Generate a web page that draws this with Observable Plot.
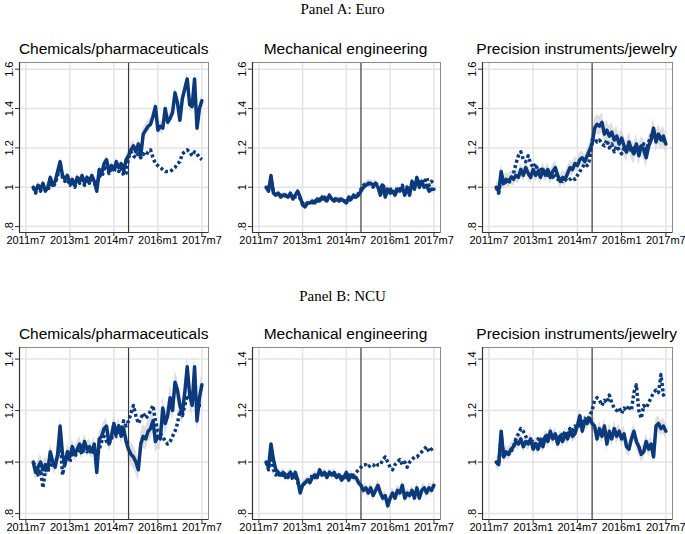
<!DOCTYPE html>
<html><head><meta charset="utf-8">
<script src="https://cdn.jsdelivr.net/npm/d3@7"></script>
<script src="https://cdn.jsdelivr.net/npm/@observablehq/plot@0.6"></script>
<style>
body{margin:0;background:#fff;}
#root{position:relative;width:685px;height:534px;overflow:hidden;background:#fff;font-family:"Liberation Sans",Arial,sans-serif;}
.ptitle{position:absolute;left:0;width:685px;text-align:center;font-family:"Liberation Serif","Times New Roman",serif;font-size:15px;line-height:18px;color:#000;}
.stitle{position:absolute;text-align:center;font-size:15.5px;line-height:18px;white-space:nowrap;color:#000;}
.cell{position:absolute;}
</style></head>
<body><div id="root"></div>
<script>
// ---- data ----
const firstMonth = "2011m10";          // first observation (months counted from 2011m7 = 0)
const firstMonthIndex = 3;
const breakMonthLabel = "2015m1";
const breakMonthIndex = 42;
const xTickValues = [0, 18, 36, 54, 72];
const xTickLabels = ["2011m7", "2013m1", "2014m7", "2016m1", "2017m7"];
const yTicksA = [0.8, 1, 1.2, 1.4, 1.6];
const yTickLabelsA = [".8", "1", "1.2", "1.4", "1.6"];
const yTicksB = [0.8, 1, 1.2, 1.4];
const yTickLabelsB = [".8", "1", "1.2", "1.4"];
const panelHeadings = ["Panel A: Euro", "Panel B: NCU"];
const sectors = ["Chemicals/pharmaceuticals", "Mechanical engineering", "Precision instruments/jewelry"];

const chemEuroSolid = [
 1.00,0.98,1.01,0.99,1.02,0.98,1.00,1.05,1.01,1.03,
 1.08,1.13,1.06,1.04,1.06,1.02,1.04,1.01,1.05,1.03,
 1.06,1.02,1.05,1.03,1.06,1.03,0.98,1.09,1.07,1.12,
 1.14,1.08,1.11,1.09,1.13,1.10,1.12,1.08,1.14,1.16,
 1.19,1.21,1.18,1.22,1.16,1.27,1.29,1.31,1.32,1.36,
 1.41,1.29,1.31,1.30,1.40,1.33,1.35,1.38,1.48,1.43,
 1.34,1.45,1.50,1.55,1.42,1.41,1.55,1.30,1.40,1.44];
const chemEuroDashed = [
 1.00,0.97,1.00,0.98,1.01,0.99,0.98,1.03,1.00,1.02,
 1.06,1.10,1.05,1.03,1.04,1.01,1.03,1.00,1.04,1.02,
 1.04,1.01,1.04,1.02,1.04,1.02,1.00,1.06,1.05,1.09,
 1.11,1.07,1.09,1.08,1.11,1.08,1.10,1.06,1.07,1.15,
 1.18,1.16,1.15,1.17,1.15,1.17,1.16,1.18,1.19,1.15,
 1.12,1.11,1.10,1.09,1.08,1.08,1.08,1.09,1.10,1.12,
 1.13,1.17,1.18,1.19,1.18,1.16,1.18,1.17,1.15,1.14];
const mechEuroSolid = [
 1.00,0.98,1.06,0.97,0.96,0.97,0.95,0.96,0.96,0.95,
 0.97,0.94,0.96,0.98,0.95,0.91,0.90,0.92,0.92,0.93,
 0.92,0.94,0.93,0.95,0.94,0.93,0.96,0.94,0.93,0.94,
 0.93,0.94,0.93,0.92,0.95,0.94,0.96,0.95,0.96,0.98,
 1.00,1.01,1.02,1.02,1.01,1.02,1.00,0.96,1.01,0.95,
 0.99,0.97,0.98,0.96,0.99,0.98,1.00,0.96,1.00,0.96,
 1.03,0.99,1.05,1.00,1.03,1.00,1.01,0.98,0.99,0.99];
const mechEuroDashed = [
 1.00,0.99,1.04,0.98,0.96,0.96,0.96,0.95,0.96,0.96,
 0.96,0.95,0.95,0.97,0.94,0.92,0.91,0.92,0.93,0.92,
 0.93,0.93,0.94,0.94,0.95,0.94,0.95,0.95,0.94,0.94,
 0.94,0.93,0.93,0.93,0.93,0.94,0.95,0.95,0.97,0.99,
 1.01,1.02,1.02,1.01,1.00,1.02,1.01,0.99,1.02,0.97,
 1.00,0.99,0.99,0.97,1.00,0.99,1.01,0.98,1.00,0.98,
 1.02,1.00,1.03,1.02,1.04,1.02,1.05,1.01,1.03,1.02];
const precEuroSolid = [
 1.00,0.98,1.08,1.02,1.04,1.03,1.05,1.04,1.06,1.05,
 1.09,1.06,1.10,1.07,1.05,1.09,1.06,1.08,1.05,1.09,
 1.06,1.09,1.05,1.08,1.10,1.06,1.03,1.05,1.04,1.07,
 1.10,1.09,1.12,1.11,1.14,1.15,1.13,1.16,1.19,1.22,
 1.30,1.32,1.31,1.33,1.27,1.29,1.26,1.28,1.24,1.26,
 1.22,1.25,1.21,1.18,1.23,1.19,1.17,1.22,1.16,1.21,
 1.19,1.15,1.21,1.24,1.30,1.23,1.27,1.24,1.26,1.22];
const precEuroDashed = [
 1.00,0.97,1.05,1.01,1.03,1.02,1.04,1.07,1.12,1.16,
 1.18,1.14,1.13,1.16,1.12,1.10,1.12,1.08,1.10,1.07,
 1.09,1.06,1.08,1.05,1.07,1.04,1.05,1.03,1.04,1.03,
 1.04,1.05,1.04,1.06,1.08,1.10,1.12,1.11,1.14,1.24,
 1.25,1.23,1.24,1.22,1.21,1.24,1.20,1.22,1.18,1.21,
 1.19,1.17,1.20,1.18,1.21,1.18,1.20,1.19,1.21,1.20,
 1.22,1.19,1.23,1.26,1.28,1.24,1.27,1.25,1.24,1.22];
const chemNcuSolid = [
 1.00,0.96,0.98,1.00,0.97,0.99,0.97,1.04,1.00,0.98,
 1.03,1.14,1.03,0.99,1.04,1.02,1.06,1.03,1.05,1.07,
 1.04,1.08,1.05,1.06,1.04,1.07,0.96,1.09,1.10,1.13,
 1.14,1.07,1.10,1.15,1.11,1.14,1.10,1.13,1.08,1.05,
 1.03,1.02,1.00,0.97,1.07,1.10,1.09,1.12,1.13,1.16,
 1.08,1.10,1.09,1.21,1.15,1.18,1.25,1.20,1.31,1.28,
 1.22,1.19,1.27,1.37,1.26,1.22,1.37,1.16,1.25,1.30];
const chemNcuDashed = [
 1.00,0.98,0.95,0.97,0.90,0.97,0.96,1.01,0.98,1.00,
 1.02,1.09,0.95,1.00,1.03,1.00,1.04,1.02,1.04,1.05,
 1.03,1.06,1.04,1.05,1.03,1.05,1.02,1.05,1.08,1.10,
 1.08,1.07,1.09,1.12,1.10,1.14,1.12,1.16,1.14,1.16,
 1.19,1.22,1.18,1.15,1.17,1.19,1.17,1.18,1.20,1.22,
 1.16,1.12,1.11,1.10,1.08,1.07,1.08,1.10,1.12,1.15,
 1.20,1.18,1.22,1.26,1.24,1.25,1.26,1.24,1.22,1.22];
const mechNcuSolid = [
 1.00,0.98,1.07,1.01,0.97,0.96,0.95,0.96,0.94,0.95,
 0.96,0.94,0.96,0.93,0.88,0.91,0.92,0.93,0.92,0.94,
 0.95,0.94,0.97,0.95,0.96,0.94,0.96,0.95,0.96,0.94,
 0.95,0.93,0.94,0.96,0.93,0.95,0.94,0.94,0.92,0.91,
 0.89,0.90,0.88,0.90,0.87,0.89,0.91,0.88,0.86,0.87,
 0.83,0.86,0.88,0.86,0.89,0.88,0.91,0.86,0.88,0.87,
 0.89,0.86,0.90,0.86,0.89,0.90,0.88,0.90,0.89,0.91];
const mechNcuDashed = [
 1.00,0.97,1.04,0.97,0.95,0.96,0.94,0.96,0.95,0.94,
 0.96,0.93,0.95,0.92,0.90,0.91,0.92,0.93,0.93,0.95,
 0.94,0.95,0.96,0.95,0.96,0.95,0.96,0.95,0.95,0.94,
 0.95,0.94,0.95,0.94,0.95,0.94,0.95,0.96,0.97,0.98,
 0.99,0.99,0.98,0.99,0.99,0.98,0.99,0.99,1.01,1.02,
 1.00,0.98,0.97,0.99,1.00,1.01,0.99,1.00,0.98,1.00,
 1.01,1.02,1.02,1.03,1.04,1.05,1.06,1.04,1.05,1.06];
const precNcuSolid = [
 1.00,0.99,1.12,1.02,1.04,1.03,1.05,1.06,1.08,1.07,
 1.09,1.06,1.08,1.07,1.09,1.05,1.07,1.05,1.08,1.06,
 1.10,1.08,1.12,1.09,1.11,1.07,1.10,1.08,1.11,1.09,
 1.12,1.10,1.11,1.14,1.18,1.12,1.16,1.15,1.17,1.15,
 1.14,1.09,1.13,1.10,1.14,1.07,1.12,1.09,1.13,1.10,
 1.12,1.09,1.11,1.06,1.05,1.09,1.12,1.08,1.06,1.03,
 1.04,1.08,1.05,1.07,1.02,1.14,1.15,1.13,1.14,1.12];
const precNcuDashed = [
 1.00,0.99,1.10,1.02,1.04,1.03,1.04,1.06,1.09,1.11,
 1.13,1.12,1.10,1.08,1.07,1.08,1.07,1.09,1.08,1.10,
 1.09,1.11,1.09,1.11,1.10,1.09,1.11,1.10,1.12,1.11,
 1.13,1.12,1.14,1.13,1.15,1.16,1.17,1.16,1.18,1.20,
 1.24,1.25,1.24,1.22,1.24,1.23,1.26,1.23,1.21,1.20,
 1.21,1.19,1.21,1.20,1.22,1.20,1.27,1.30,1.20,1.17,
 1.22,1.21,1.23,1.25,1.27,1.28,1.27,1.34,1.26,1.27];
// confidence half-widths (before / after the break)
const bandA = [[0.02, 0.03], [0.015, 0.02], [0.035, 0.05]];
const bandB = [[0.03, 0.045], [0.015, 0.02], [0.025, 0.03]];

// ---- layout ----
const navy = "#0b3a7c";
const colFrames = [[19.3, 208], [251.7, 439.3], [481.7, 671.7]];
const rowFrames = [[61.7, 231.7], [346.7, 518.3]];
const xDomain = [-2.6, 74.7];
const yDomainA = [0.77, 1.634];
const yDomainB = [0.777, 1.445];

const root = document.getElementById("root");
const series = [
  [[chemEuroSolid, chemEuroDashed], [mechEuroSolid, mechEuroDashed], [precEuroSolid, precEuroDashed]],
  [[chemNcuSolid, chemNcuDashed], [mechNcuSolid, mechNcuDashed], [precNcuSolid, precNcuDashed]]
];
const headingTops = [0, 287];
panelHeadings.forEach((h, r) => {
  const d = document.createElement("div");
  d.className = "ptitle"; d.style.top = headingTops[r] + "px"; d.textContent = h;
  root.appendChild(d);
});

const mL = 20, mR = 6, mT = 2, mB = 22;
for (let r = 0; r < 2; r++) {
  const yTicks = r === 0 ? yTicksA : yTicksB;
  const yLabels = r === 0 ? yTickLabelsA : yTickLabelsB;
  const yDomain = r === 0 ? yDomainA : yDomainB;
  const bands = r === 0 ? bandA : bandB;
  for (let c = 0; c < 3; c++) {
    const [fl, fr] = colFrames[c];
    const [ft, fb] = rowFrames[r];
    const [solid, dashed] = series[r][c];
    const rows = solid.map((v, i) => {
      const m = firstMonthIndex + i;
      const hw = m >= breakMonthIndex ? bands[c][1] : bands[c][0];
      return {m, solid: v, dashed: dashed[i], lo: v - hw, hi: v + hw};
    });
    const t = document.createElement("div");
    t.className = "stitle";
    t.style.left = (fl - 20) + "px"; t.style.width = (fr - fl + 40) + "px";
    t.style.top = (ft - 22) + "px"; t.textContent = sectors[c];
    root.appendChild(t);

    const W = Math.round(fr - fl) + mL + mR;
    const H = Math.round(fb - ft) + mT + mB;
    const chart = Plot.plot({
      width: W, height: H, marginLeft: mL, marginRight: mR, marginTop: mT, marginBottom: mB,
      x: {domain: xDomain},
      y: {domain: yDomain},
      style: {fontFamily: "Liberation Sans, Arial, sans-serif", fontSize: "11px", color: "#000", background: "transparent", overflow: "visible"},
      marks: [
        Plot.gridY(yTicks, {stroke: "#e4e4e4", strokeOpacity: 1, strokeWidth: 1.5}),
        Plot.gridX(xTickValues, {stroke: "#e4e4e4", strokeOpacity: 1, strokeWidth: 1.5}),
        Plot.areaY(rows, {x: "m", y1: "lo", y2: "hi", fill: "#d4d4d4", fillOpacity: 0.75, curve: "linear"}),
        Plot.ruleX([breakMonthIndex], {stroke: "#3a3a3a", strokeWidth: 1.2}),
        Plot.line(rows, {x: "m", y: "dashed", stroke: navy, strokeWidth: 3.5, strokeDasharray: "3,2.5", strokeLinecap: "butt"}),
        Plot.line(rows, {x: "m", y: "solid", stroke: navy, strokeWidth: 3.5}),
        Plot.frame({stroke: "#8a8a8a"}),
        Plot.axisX(xTickValues, {label: null, tickSize: 4, tickPadding: 0, tickFormat: d => xTickLabels[xTickValues.indexOf(d)], stroke: "#333"}),
        Plot.axisY(yTicks, {label: null, tickSize: 4, tickRotate: -90, tickPadding: 3, tickFormat: d => yLabels[yTicks.indexOf(d)], stroke: "#333"}),
        Plot.ruleX([xDomain[0]], {stroke: "#333", strokeWidth: 1.2}),
        Plot.ruleY([yDomain[0]], {stroke: "#333", strokeWidth: 1.2})
      ]
    });
    const cell = document.createElement("div");
    cell.className = "cell";
    cell.style.left = (fl - mL) + "px"; cell.style.top = (ft - mT) + "px";
    cell.appendChild(chart);
    root.appendChild(cell);
  }
}
</script>
</body></html>
